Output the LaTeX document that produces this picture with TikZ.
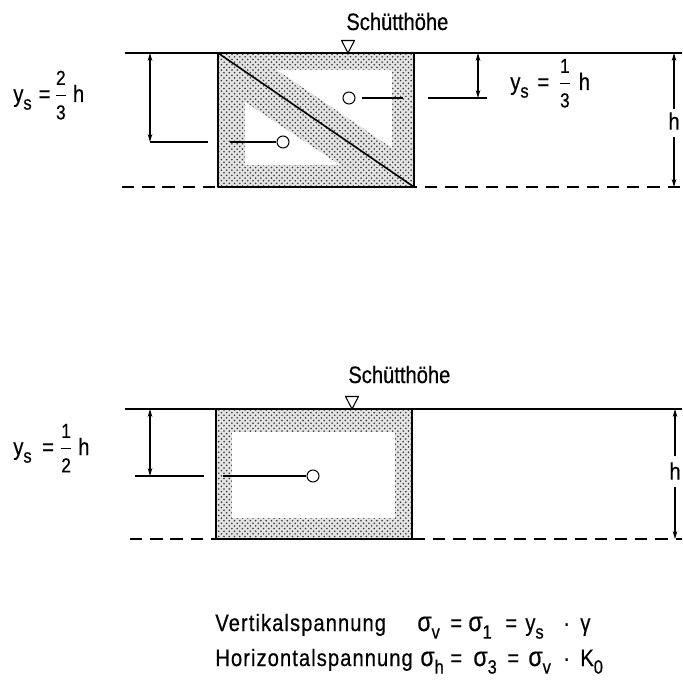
\documentclass[tikz,border=0pt]{standalone}
\usepackage{amsmath}
\usepackage{fontspec}
\setmainfont{Liberation Sans}[FakeStretch=0.85,FakeBold=0.5]
\newfontfamily\spacedfont{Liberation Sans}[FakeStretch=0.85,FakeBold=0.5,LetterSpace=4.5]
\usetikzlibrary{patterns,arrows.meta}
% tiefgestellter Index in fast voller Größe
\newcommand\sub[1]{\raisebox{-0.32em}{\fontsize{11}{12}\selectfont #1}}
% Bruch mit kleinen Ziffern
\newcommand\fr[2]{$\genfrac{}{}{0.6pt}{0}{\text{\fontsize{11.5}{12}\selectfont #1}}{\text{\fontsize{11.5}{12}\selectfont #2}}$}
\newcommand\sig{{\fontsize{15.5}{16}\selectfont σ}}

\begin{document}
\begin{tikzpicture}[x=0.02cm, y=-0.02cm, >={Stealth[length=4.5pt,width=2.6pt]}, line join=round,
    txt/.style={font=\fontsize{13.5}{15}\selectfont, inner sep=0pt, anchor=base west},
    dim/.style={line width=0.6pt},
    ground/.style={line width=0.8pt},
    groundline/.style={line width=0.8pt, dash pattern=on 7pt off 4.5pt},
    fillzone/.style={pattern=crosshatch dots, pattern color=black!80},
    box/.style={line width=1.1pt}]
    \useasboundingbox (0,0) rectangle (682,692);

    % ---------- oberes Bild ----------
    % Bezugslinien (Schütthöhe und Sohle)
    \coordinate (TL) at (125,53);
    \coordinate (TR) at (682,53);
    \coordinate (BL) at (122,187);
    \coordinate (BR) at (682,187);
    \draw[ground] (TL) -- (TR);
    \draw[groundline] (BL) -- (BR);

    % Körper mit Diagonale (Punktraster, innen frei)
    \coordinate (K1) at (218,53);
    \coordinate (K2) at (414,187);
    \fill[gray!22] (K1) rectangle (K2);
    \fill[fillzone] (K1) rectangle (K2);
    \fill[white] (277,70) -- (392,70) -- (392,148) -- cycle;
    \fill[white] (245,102) -- (245,165) -- (340,165) -- cycle;
    \draw[box] (K1) rectangle (K2);
    \draw[line width=0.9pt] (K1) -- (K2);

    % Marke Schütthöhe
    \coordinate (M1) at (348,53);
    \draw[dim] (M1) -- (341.5,40.5) -- (354.5,40.5) -- cycle;
    \node[txt] (S1) at (346,30) {Schütthöhe};

    % Schwerpunkt oberes Dreieck, y_s = 1/3 h
    \node[draw, dim, circle, fill=white, minimum size=12*0.02cm, inner sep=0pt] (C1) at (349,98) {};
    \coordinate (C1a) at (362,98);
    \coordinate (C1b) at (403,98);
    \draw[dim] (C1a) -- (C1b);
    \coordinate (R1) at (478,53);
    \coordinate (R2) at (478,98);
    \draw[dim, <->] (R1) -- (R2);
    \draw[dim] (428,98) -- (487,98);
    \node[txt] (Y1) at (510,90) {y\sub{s}\hspace{5pt}=\hspace{5pt}\fr{1}{3}\hspace{4pt}h};

    % Schwerpunkt unteres Dreieck, y_s = 2/3 h
    \node[draw, dim, circle, fill=white, minimum size=12*0.02cm, inner sep=0pt] (C2) at (283,142) {};
    \draw[dim] (230,142) -- (C2.west);
    \coordinate (L1) at (150,53);
    \coordinate (L2) at (150,142);
    \draw[dim, <->] (L1) -- (L2);
    \draw[dim] (L2) -- (208,142);
    \node[txt] (Y2) at (13,102) {y\sub{s}\hspace{4pt}=\hspace{2pt}\fr{2}{3}\hspace{3pt}h};

    % Höhe h
    \node[txt, anchor=center] (H1) at (674,121) {h};
    \draw[dim, ->] (674,109) -- (TR -| 674,0);
    \draw[dim, ->] (674,137) -- (BR -| 674,0);

    % ---------- unteres Bild ----------
    \coordinate (TL2) at (125,409);
    \coordinate (TR2) at (682,409);
    \coordinate (BL2) at (130,539);
    \coordinate (BR2) at (682,539);
    \draw[ground] (TL2) -- (TR2);
    \draw[groundline] (BL2) -- (BR2);

    % Körper (Punktraster, innen frei)
    \coordinate (K3) at (216,409);
    \coordinate (K4) at (412,539);
    \fill[gray!22] (K3) rectangle (K4);
    \fill[fillzone] (K3) rectangle (K4);
    \fill[white] (232,432) rectangle (395,518);
    \draw[box] (K3) rectangle (K4);
    \draw[ground] (212,539) -- (425,539);

    % Marke Schütthöhe
    \coordinate (M2) at (352,409);
    \draw[dim] (M2) -- (345.5,396.5) -- (358.5,396.5) -- cycle;
    \node[txt] (S2) at (348,383) {Schütthöhe};

    % Schwerpunkt, y_s = 1/2 h
    \node[draw, dim, circle, fill=white, minimum size=12*0.02cm, inner sep=0pt] (C3) at (313,476) {};
    \draw[dim] (223,476) -- (C3.west);
    \coordinate (L3) at (150,409);
    \coordinate (L4) at (150,476);
    \draw[dim, <->] (L3) -- (L4);
    \draw[dim] (135,476) -- (204,476);
    \node[txt] (Y3) at (13,455) {y\sub{s}\hspace{6pt}=\hspace{3pt}\fr{1}{2}\hspace{3pt}h};

    % Höhe h
    \node[txt, anchor=center] (H2) at (675,471) {h};
    \draw[dim, ->] (675,456) -- (TR2 -| 675,0);
    \draw[dim, ->] (675,487) -- (BR2 -| 675,0);

    % ---------- Spannungen ----------
    \node[txt, font=\fontsize{13.5}{15}\spacedfont] (V0) at (215,631) {Vertikalspannung};
    \foreach \x/\t [count=\i] in {417/\sig\sub{v}, 450/=, 468/\sig\sub{1}, 505/=, 525/y\sub{s}, 563/·, 580/γ}
        \node[txt] (V\i) at (\x,631) {\t};
    \node[txt, font=\fontsize{13.5}{15}\spacedfont] (W0) at (215,666) {Horizontalspannung};
    \foreach \x/\t [count=\i] in {420/\sig\sub{h}, 450/=, 473/\sig\sub{3}, 507/=, 528/\sig\sub{v}, 563/·, 580/K\sub{0}}
        \node[txt] (W\i) at (\x,666) {\t};
\end{tikzpicture}
\end{document}
